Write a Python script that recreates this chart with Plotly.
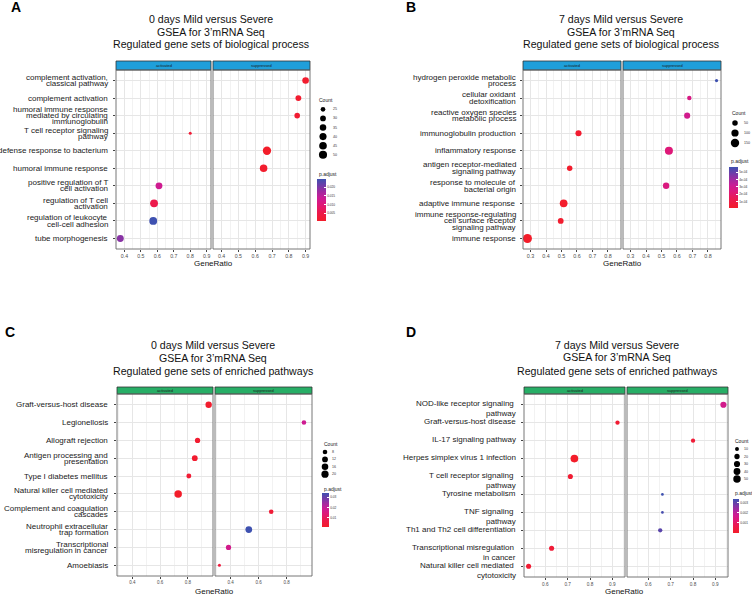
import math
import plotly.graph_objects as go

W, H = 752, 596

# ------------------------------------------------------------------ data
a_terms = ["complement activation,\nclassical pathway", "complement activation",
           "humoral immune response\nmediated by circulating\nimmunoglobulin",
           "T cell receptor signaling\npathway", "defense response to bacterium",
           "humoral immune response", "positive regulation of T\ncell activation",
           "regulation of T cell\nactivation", "regulation of leukocyte\ncell-cell adhesion",
           "tube morphogenesis"]
a_group = ["suppressed", "suppressed", "suppressed", "activated", "suppressed",
           "suppressed", "activated", "activated", "activated", "activated"]
a_ratio = [0.90, 0.857, 0.85, 0.80, 0.67, 0.65, 0.61, 0.58, 0.575, 0.375]
a_count = [36, 31, 29, 22, 52, 44, 38, 47, 47, 38]
a_padj = [0.0010, 0.0012, 0.0015, 0.0020, 0.0003, 0.0008, 0.013, 0.005, 0.0245, 0.019]
a_count_breaks = [25, 30, 35, 40, 45, 50]
a_p_ticks = [0.005, 0.010, 0.015, 0.020]
a_p_text = ["0.005", "0.010", "0.015", "0.020"]

b_terms = ["hydrogen peroxide metabolic\nprocess", "cellular oxidant\ndetoxification",
           "reactive oxygen species\nmetabolic process", "immunoglobulin production",
           "inflammatory response", "antigen receptor-mediated\nsignaling pathway",
           "response to molecule of\nbacterial origin", "adaptive immune response",
           "immune response-regulating\ncell surface receptor\nsignaling pathway",
           "immune response"]
b_group = ["suppressed", "suppressed", "suppressed", "activated", "suppressed",
           "activated", "suppressed", "activated", "activated", "activated"]
b_ratio = [0.856, 0.68, 0.666, 0.61, 0.548, 0.553, 0.53, 0.514, 0.495, 0.28]
b_count = [25, 32, 64, 64, 132, 48, 72, 120, 56, 180]
b_padj = [5.7e-4, 2.6e-4, 2.9e-4, 3e-5, 2.3e-4, 2e-5, 2.5e-4, 1.5e-5, 2.5e-5, 1e-5]
b_count_breaks = [50, 100, 150]
b_p_ticks = [1e-4, 2e-4, 3e-4, 4e-4, 5e-4]
b_p_text = ["1e-04", "2e-04", "3e-04", "4e-04", "5e-04"]

c_terms = ["Graft-versus-host disease", "Legionellosis", "Allograft rejection",
           "Antigen processing and\npresentation", "Type I diabetes mellitus",
           "Natural killer cell mediated\ncytotoxicity", "Complement and coagulation\ncascades",
           "Neutrophil extracellular\ntrap formation", "Transcriptional\nmisregulation in cancer",
           "Amoebiasis"]
c_group = ["activated", "suppressed", "activated", "activated", "activated",
           "activated", "suppressed", "suppressed", "suppressed", "suppressed"]
c_ratio = [0.95, 0.924, 0.87, 0.85, 0.807, 0.73, 0.69, 0.53, 0.385, 0.32]
c_count = [15, 8, 10, 12, 9, 22, 8, 17, 10, 6]
c_padj = [0.0010, 0.018, 0.0015, 0.0015, 0.0025, 0.0003, 0.003, 0.034, 0.017, 0.004]
c_count_breaks = [8, 12, 16, 20]
c_p_ticks = [0.01, 0.02, 0.03]
c_p_text = ["0.01", "0.02", "0.03"]

d_terms = ["NOD-like receptor signaling\u00a0\npathway", "Graft-versus-host disease",
           "IL-17 signaling pathway", "Herpes simplex virus 1 infection",
           "T cell receptor signaling\u00a0\npathway", "Tyrosine metabolism",
           "TNF signaling\u00a0\npathway", "Th1 and Th2 cell differentiation",
           "Transcriptional misregulation\u00a0\nin cancer",
           "Natural killer cell mediated\u00a0\ncytotoxicity"]
d_group = ["suppressed", "activated", "suppressed", "activated", "activated",
           "suppressed", "suppressed", "suppressed", "activated", "activated"]
d_ratio = [0.936, 0.923, 0.80, 0.73, 0.712, 0.663, 0.663, 0.653, 0.628, 0.525]
d_count = [30, 12, 12, 55, 18, 7, 7, 12, 18, 18]
d_padj = [0.0017, 0.0002, 0.0003, 2e-5, 0.0002, 0.0034, 0.0033, 0.0031, 0.0003, 0.0002]
d_count_breaks = [10, 20, 30, 40, 50]
d_p_ticks = [0.001, 0.002, 0.003]
d_p_text = ["0.001", "0.002", "0.003"]

titles_bp = ["GSEA for 3\u2019mRNA Seq", "Regulated gene sets of biological process"]
titles_kegg = ["GSEA for 3\u2019mRNA Seq", "Regulated gene sets of enriched pathways"]

# ------------------------------------------------------------------ styling
FONT = "Liberation Sans, Arial, Helvetica, sans-serif"
CS = [[0.0, "#F31D2A"], [0.2, "#EC1A4C"], [0.4, "#DD187A"], [0.55, "#CB1C95"],
      [0.7, "#A02AA0"], [0.85, "#6E3DA8"], [1.0, "#3E51B0"]]


def X(px):
    return px / W


def Y(py):
    return 1 - py / H


panels = [
    dict(letter="A", lpos=(16, 7), terms=a_terms, group=a_group, ratio=a_ratio, count=a_count,
         padj=a_padj, breaks=a_count_breaks, pt=a_p_ticks, ptxt=a_p_text,
         title=["0 days Mild versus Severe"] + titles_bp, tx=211, ty=[18.7, 31.5, 44],
         xa=(116, 211), xs=(213, 310), yd=(70, 249), strip=(61, 70), scol="#1F9FDA",
         dtick=0.1, tickfs=5.2, lab_r=110, mode="center", lsp=6.3,
         grx=213, gry=263, drange=(3.0, 8.3),
         cnt=(317, 100, 323, 331, 109.3, 9.1), cb=(317, 174, 179.3, 42.4, 9)),
    dict(letter="B", lpos=(411, 7), terms=b_terms, group=b_group, ratio=b_ratio, count=b_count,
         padj=b_padj, breaks=b_count_breaks, pt=b_p_ticks, ptxt=b_p_text,
         title=["7 days Mild versus Severe"] + titles_bp, tx=621, ty=[18.7, 31.5, 44],
         xa=(523, 621), xs=(623, 721), yd=(70, 249), strip=(61, 70), scol="#1F9FDA",
         dtick=0.1, tickfs=5.4, lab_r=518, mode="center", lsp=6.6,
         grx=622, gry=263, drange=(3.2, 9.0),
         cnt=(730, 113, 735, 742, 123, 10), cb=(729, 161, 167, 41, 9)),
    dict(letter="C", lpos=(10, 332), terms=c_terms, group=c_group, ratio=c_ratio, count=c_count,
         padj=c_padj, breaks=c_count_breaks, pt=c_p_ticks, ptxt=c_p_text,
         title=["0 days Mild versus Severe"] + titles_kegg, tx=213, ty=[345, 357.7, 370.7],
         xa=(117, 213), xs=(215, 312), yd=(394, 576), strip=(387, 394), scol="#27AE66",
         dtick=0.2, tickfs=4.5, lab_r=110, mode="center", lsp=6.0,
         grx=214, gry=591.5, drange=(3.0, 7.5),
         cnt=(322, 444, 325, 330, 452, 7.4), cb=(322, 489, 493.3, 34, 7)),
    dict(letter="D", lpos=(411, 332), terms=d_terms, group=d_group, ratio=d_ratio, count=d_count,
         padj=d_padj, breaks=d_count_breaks, pt=d_p_ticks, ptxt=d_p_text,
         title=["7 days Mild versus Severe"] + titles_kegg, tx=617, ty=[345, 357.3, 370.7],
         xa=(524, 625), xs=(627, 728), yd=(394, 577), strip=(387, 394), scol="#27AE66",
         dtick=0.1, tickfs=4.7, lab_r=518, mode="top", lsp=10.0,
         grx=624, gry=591.5, drange=(2.7, 7.7),
         cnt=(733, 441, 737, 742, 449, 7.5), cb=(733, 493, 498.7, 33.6, 6)),
]

fig = go.Figure()
layout = dict(width=W, height=H, margin=dict(l=0, r=0, t=0, b=0),
              paper_bgcolor="white", plot_bgcolor="white", showlegend=False,
              font=dict(family=FONT, color="#1a1a1a"))
annotations = []
shapes = []


def diam(v, lo, hi, dr):
    t = 0.0 if hi == lo else (v - lo) / (hi - lo)
    t = min(max(t, 0.0), 1.0)
    return dr[0] + (dr[1] - dr[0]) * math.sqrt(t)


for k, p in enumerate(panels):
    n = len(p["terms"])
    ya = "y" if k == 0 else f"y{k + 1}"
    yname = "yaxis" if k == 0 else f"yaxis{k + 1}"
    xa_idx = 2 * k + 1
    xs_idx = 2 * k + 2
    xa_ref = "x" if xa_idx == 1 else f"x{xa_idx}"
    xs_ref = f"x{xs_idx}"
    ca = "coloraxis" if k == 0 else f"coloraxis{k + 1}"

    lo, hi = min(p["count"]), max(p["count"])
    rmin, rmax = min(p["ratio"]), max(p["ratio"])
    span = rmax - rmin
    xr = [rmin - 0.05 * span, rmax + 0.05 * span]

    for g, xref in (("activated", xa_ref), ("suppressed", xs_ref)):
        idx = [i for i in range(n) if p["group"][i] == g]
        fig.add_trace(go.Scatter(
            x=[p["ratio"][i] for i in idx], y=[p["terms"][i] for i in idx],
            xaxis=xref, yaxis=ya, mode="markers",
            marker=dict(size=[diam(p["count"][i], lo, hi, p["drange"]) for i in idx],
                        color=[p["padj"][i] for i in idx], coloraxis=ca,
                        line=dict(width=0), opacity=1),
            hoverinfo="x+y"))

    for xi, dom in ((xa_idx, p["xa"]), (xs_idx, p["xs"])):
        xname = "xaxis" if xi == 1 else f"xaxis{xi}"
        layout[xname] = dict(
            domain=[X(dom[0]), X(dom[1])], anchor=ya, range=xr,
            tickmode="linear", tick0=0, dtick=p["dtick"], tickformat=".1f",
            showgrid=True, gridcolor="#E6E6E6", gridwidth=0.8,
            minor=dict(dtick=p["dtick"] / 2, showgrid=True, gridcolor="#F2F2F2", gridwidth=0.5),
            zeroline=False, showline=False, ticks="outside", ticklen=2,
            tickcolor="#444", tickwidth=0.6,
            tickfont=dict(size=p["tickfs"], color="#4D4D4D", family=FONT),
            fixedrange=True)

    layout[yname] = dict(
        domain=[Y(p["yd"][1]), Y(p["yd"][0])], anchor=xa_ref, type="category",
        categoryorder="array", categoryarray=p["terms"], range=[n - 1 + 0.6, -0.6],
        showticklabels=False, ticks="outside", ticklen=2.5, tickcolor="#444",
        tickwidth=0.6, showgrid=True, gridcolor="#E6E6E6", gridwidth=0.8,
        zeroline=False, showline=False, fixedrange=True)

    # colour scale / bar
    cbx, cbty, cby, cblen, cbth = p["cb"]
    layout[ca] = dict(
        cmin=min(p["padj"]), cmax=max(p["padj"]), colorscale=CS, showscale=True,
        colorbar=dict(x=X(cbx), xanchor="left", xpad=0, y=Y(cby), yanchor="top", ypad=0,
                      lenmode="pixels", len=cblen, thicknessmode="pixels", thickness=cbth,
                      outlinewidth=0, tickmode="array", tickvals=p["pt"], ticktext=p["ptxt"],
                      ticks="inside", ticklen=2, tickcolor="white", tickwidth=0.6,
                      tickfont=dict(size=3.2, color="#333", family=FONT),
                      title=dict(text="")))
    annotations.append(dict(text="p.adjust", x=X(cbx), y=Y(cbty), xref="paper", yref="paper",
                            xanchor="left", yanchor="middle", showarrow=False,
                            font=dict(size=5, color="#1a1a1a", family=FONT)))

    # count legend
    tx0, tty, dx, lx, y0, step = p["cnt"]
    annotations.append(dict(text="Count", x=X(tx0), y=Y(tty), xref="paper", yref="paper",
                            xanchor="left", yanchor="middle", showarrow=False,
                            font=dict(size=5, color="#1a1a1a", family=FONT)))
    for j, b in enumerate(p["breaks"]):
        cy = y0 + j * step
        r = diam(b, lo, hi, p["drange"]) / 2
        shapes.append(dict(type="circle", xref="paper", yref="paper",
                           xsizemode="pixel", ysizemode="pixel",
                           xanchor=X(dx), yanchor=Y(cy), x0=-r, x1=r, y0=-r, y1=r,
                           fillcolor="black", line=dict(width=0)))
        annotations.append(dict(text=str(b), x=X(lx), y=Y(cy), xref="paper", yref="paper",
                                xanchor="left", yanchor="middle", showarrow=False,
                                font=dict(size=3.6, color="#333", family=FONT)))

    # category labels
    for i, term in enumerate(p["terms"]):
        lines = term.split("\n")
        m = len(lines)
        for j, line in enumerate(lines):
            if p["mode"] == "center":
                off = (j - (m - 1) / 2) * p["lsp"]
            else:
                off = -1 + j * p["lsp"]
            annotations.append(dict(text=line, x=X(p["lab_r"]), y=i, xref="paper", yref=ya,
                                    xanchor="right", yanchor="middle", yshift=-off,
                                    showarrow=False,
                                    font=dict(size=8, color="#1a1a1a", family=FONT)))

    # strips and borders
    for dom, lab in ((p["xa"], "activated"), (p["xs"], "suppressed")):
        shapes.append(dict(type="rect", xref="paper", yref="paper",
                           x0=X(dom[0]), x1=X(dom[1]), y0=Y(p["strip"][1]), y1=Y(p["strip"][0]),
                           fillcolor=p["scol"], line=dict(color="#333", width=0.8)))
        shapes.append(dict(type="rect", xref="paper", yref="paper",
                           x0=X(dom[0]), x1=X(dom[1]), y0=Y(p["yd"][1]), y1=Y(p["yd"][0]),
                           fillcolor="rgba(0,0,0,0)", line=dict(color="#666", width=0.9)))
        annotations.append(dict(text=lab, x=X((dom[0] + dom[1]) / 2),
                                y=Y((p["strip"][0] + p["strip"][1]) / 2),
                                xref="paper", yref="paper", xanchor="center", yanchor="middle",
                                showarrow=False, font=dict(size=4, color="#1a1a1a", family=FONT)))

    # titles
    for line, ty in zip(p["title"], p["ty"]):
        annotations.append(dict(text=line, x=X(p["tx"]), y=Y(ty), xref="paper", yref="paper",
                                xanchor="center", yanchor="middle", showarrow=False,
                                font=dict(size=10.6, color="#111", family=FONT)))
    annotations.append(dict(text="GeneRatio", x=X(p["grx"]), y=Y(p["gry"]), xref="paper",
                            yref="paper", xanchor="center", yanchor="middle", showarrow=False,
                            font=dict(size=8, color="#111", family=FONT)))
    annotations.append(dict(text="<b>%s</b>" % p["letter"], x=X(p["lpos"][0]), y=Y(p["lpos"][1]),
                            xref="paper", yref="paper", xanchor="center", yanchor="middle",
                            showarrow=False, font=dict(size=14, color="black", family=FONT)))

layout["annotations"] = annotations
layout["shapes"] = shapes
fig.update_layout(**layout)
fig.write_html("out.html", config={"displayModeBar": False},
               post_script="document.body.style.margin='0';document.body.style.overflow='hidden';")
